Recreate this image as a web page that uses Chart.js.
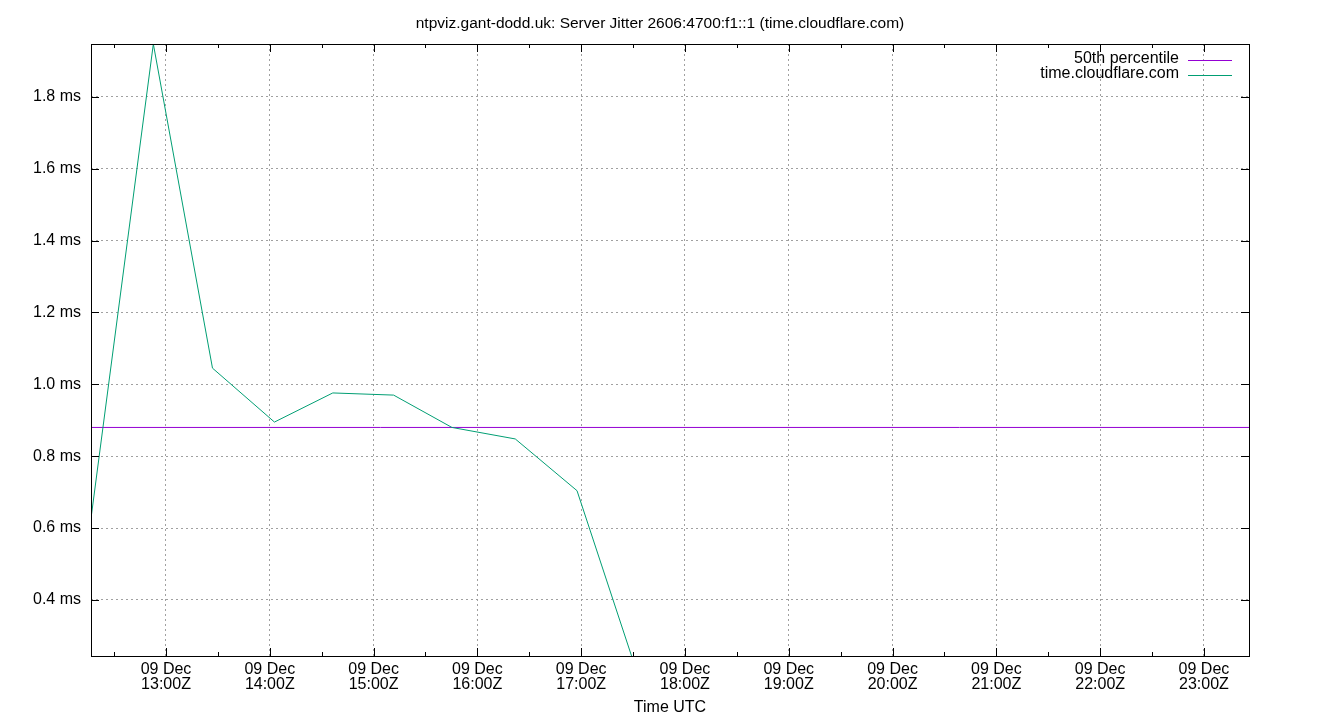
<!DOCTYPE html>
<html>
<head>
<meta charset="utf-8">
<title>Server Jitter</title>
<script src="https://cdn.jsdelivr.net/npm/chart.js@4.4.1/dist/chart.umd.min.js"></script>
<style>
  html, body { margin: 0; padding: 0; background: #fff; }
  #wrap { width: 1340px; height: 720px; }
</style>
</head>
<body>
<div id="wrap"><canvas id="myChart" width="1340" height="720"></canvas></div>
<script>
// hours of 09 Dec (UTC)
const sampleHours = [12.278, 12.878, 13.448, 14.045, 14.607, 15.193, 15.755, 16.365, 16.960, 17.530];
const jitterMs = [0.628, 1.947, 1.045, 0.895, 0.976, 0.970, 0.880, 0.848, 0.704, 0.205];
const percentile50 = 0.880;
const xRange = [12.2775, 23.434];
const yRange = [0.244, 1.947];
const dayLabel = '09 Dec';

const FONT = 'Liberation Sans, Arial, sans-serif';
const PURPLE = '#9400d3';
const GREEN = '#009e73';
const GRID = '#a0a0a0';

const canvas = document.getElementById('myChart');
const ctx = canvas.getContext('2d');

const data = {
    datasets: [{
        label: '50th percentile',
        data: xRange.map(h => ({x: h, y: percentile50})),
        borderColor: PURPLE,
        borderWidth: 1,
        pointRadius: 0,
        order: 1
    }, {
        label: 'time.cloudflare.com',
        data: sampleHours.map((h, i) => ({x: h, y: jitterMs[i]})),
        borderColor: GREEN,
        borderWidth: 1,
        pointRadius: 0,
        order: 0
    }]
};

const isHour = v => Math.abs(v - Math.round(v)) < 1e-6;

// gnuplot-like frame, inward tick marks and key
const gnuplotFrame = {
    id: 'gnuplotFrame',
    afterDraw(chart) {
        const a = chart.chartArea;
        const c = chart.ctx;
        c.save();
        c.strokeStyle = '#000';
        c.lineWidth = 1;
        c.beginPath();
        chart.scales.x.ticks.forEach(t => {
            const px = Math.round(chart.scales.x.getPixelForValue(t.value)) + 0.5;
            const len = isHour(t.value) ? 8 : 4;
            c.moveTo(px, a.bottom); c.lineTo(px, a.bottom - len);
            c.moveTo(px, a.top); c.lineTo(px, a.top + len);
        });
        chart.scales.y.ticks.forEach(t => {
            const py = Math.round(chart.scales.y.getPixelForValue(t.value)) + 0.5;
            c.moveTo(a.left, py); c.lineTo(a.left + 8, py);
            c.moveTo(a.right, py); c.lineTo(a.right - 8, py);
        });
        c.stroke();
        c.strokeRect(Math.round(a.left) + 0.5, Math.round(a.top) + 0.5,
            Math.round(a.right - a.left), Math.round(a.bottom - a.top));

        // key, top right inside the plot
        c.font = '16px ' + FONT;
        c.textAlign = 'right';
        c.textBaseline = 'middle';
        chart.data.datasets.forEach((ds, i) => {
            const y = a.top + 15 + i * 15;
            c.fillStyle = '#000';
            c.fillText(ds.label, a.right - 70, y);
            c.strokeStyle = ds.borderColor;
            c.beginPath();
            c.moveTo(a.right - 61, Math.round(y) + 1.5);
            c.lineTo(a.right - 17, Math.round(y) + 1.5);
            c.stroke();
        });
        c.restore();
    }
};

var myChart = new Chart(ctx, {
    type: 'line',
    data: data,
    plugins: [gnuplotFrame],
    options: {
        responsive: false,
        animation: false,
        layout: { padding: { left: 0, right: 20, top: 0, bottom: 0 } },
        plugins: {
            legend: { display: false },
            tooltip: { enabled: false },
            title: {
                display: true,
                text: 'ntpviz.gant-dodd.uk: Server Jitter 2606:4700:f1::1 (time.cloudflare.com)',
                color: '#000',
                font: { family: FONT, size: 15.5, weight: 'normal', lineHeight: 1.2 },
                padding: { top: 14, bottom: 11.4 }
            }
        },
        scales: {
            x: {
                type: 'linear',
                min: xRange[0],
                max: xRange[1],
                afterFit: s => { s.height = 64; },
                border: { display: false, dash: [2, 3] },
                grid: {
                    color: t => (t.tick && isHour(t.tick.value)) ? GRID : 'rgba(0,0,0,0)',
                    tickLength: 0,
                    lineWidth: 1
                },
                ticks: {
                    stepSize: 0.5,
                    includeBounds: false,
                    autoSkip: false,
                    maxRotation: 0,
                    padding: 6,
                    color: '#000',
                    font: { family: FONT, size: 16, lineHeight: 0.95 },
                    callback: v => isHour(v) ? [dayLabel, String(Math.round(v)).padStart(2, '0') + ':00Z'] : ''
                },
                title: {
                    display: true,
                    text: 'Time UTC',
                    color: '#000',
                    font: { family: FONT, size: 16, lineHeight: 1.2 },
                    padding: { top: 0, bottom: 3 }
                }
            },
            y: {
                type: 'linear',
                min: yRange[0],
                max: yRange[1],
                afterFit: s => { s.width = 91; },
                border: { display: false, dash: [2, 3] },
                grid: { color: GRID, tickLength: 0, lineWidth: 1 },
                ticks: {
                    stepSize: 0.2,
                    includeBounds: false,
                    padding: 10,
                    color: '#000',
                    font: { family: FONT, size: 16 },
                    callback: v => v.toFixed(1) + ' ms'
                }
            },
            // empty right margin so the title centres like the original
            yRight: {
                type: 'linear',
                position: 'right',
                display: true,
                afterFit: s => { s.width = 71; },
                border: { display: false },
                grid: { display: false },
                ticks: { display: false }
            }
        }
    }
});
</script>
</body>
</html>
